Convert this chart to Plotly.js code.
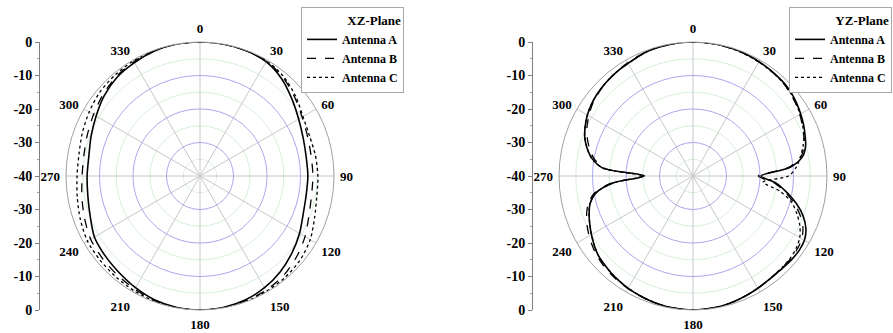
<!DOCTYPE html>
<html><head><meta charset="utf-8">
<script src="https://cdn.plot.ly/plotly-3.0.1.min.js"></script>
<style>html,body{margin:0;padding:0;background:#fff}#chart{width:893px;height:333px}</style>
</head><body><div id="chart"></div>
<script>
// ---- data (gain in dB) ----
const thetaXZ = [0,10,20,30,40,50,60,70,80,90,100,110,120,130,140,150,160,170,180,190,200,210,220,230,240,250,260,270,280,290,300,310,320,330,340,350,360];
const xzA = [0,0,-0.15,-0.6,-2.1,-4.2,-6.0,-7.2,-7.8,-7.8,-7.8,-7.2,-5.7,-4.2,-2.7,-1.5,-0.6,-0.15,0,-0.15,-0.6,-1.5,-2.4,-3.0,-3.6,-5.1,-6.0,-6.3,-6.3,-5.4,-4.2,-2.7,-1.5,-0.9,-0.3,0,0];
const xzB = [0,0,-0.1,-0.4,-1.5,-3.2,-4.8,-5.8,-6.3,-6.3,-6.2,-5.4,-3.8,-2.4,-1.2,-0.6,-0.3,-0.1,0,-0.1,-0.4,-1.0,-1.5,-1.9,-2.3,-3.3,-4.2,-4.8,-4.8,-4.2,-3.3,-2.2,-1.2,-0.6,-0.2,0,0];
const xzC = [0,0,-0.1,-0.3,-1.2,-2.8,-4.5,-5.2,-5.0,-4.8,-4.6,-3.6,-2.0,-1.0,-0.5,-0.3,-0.1,0,0,0,-0.2,-0.5,-0.8,-1.0,-1.2,-2.0,-2.8,-3.3,-3.3,-2.6,-1.8,-1.0,-0.6,-0.3,-0.1,0,0];

const thetaYZ = [0,5,10,15,20,25,30,35,40,45,50,55,60,65,70,75,80,85,90,95,100,105,110,115,120,125,130,135,140,145,150,155,160,165,170,175,180,185,190,195,200,205,210,215,220,225,230,235,240,245,250,255,260,265,270,275,280,285,290,295,300,305,310,315,320,325,330,335,340,345,350,355,360];
const yzA = [0,0,0,-0.1,-0.2,-0.4,-0.6,-0.8,-1.0,-1.2,-1.6,-2.2,-2.9,-3.6,-4.4,-5.2,-6.8,-11,-19.7,-15,-11.5,-8,-5,-2.8,-1.6,-1.3,-1.4,-1.6,-1.7,-1.6,-1.3,-1.0,-0.7,-0.4,-0.2,-0.1,0,-0.1,-0.2,-0.4,-0.7,-1.0,-1.3,-1.7,-2.1,-2.6,-3.1,-4.0,-5.0,-6.0,-7.0,-8.2,-10.5,-16,-25.5,-13,-9.3,-7.2,-5.6,-4.5,-3.6,-2.9,-2.4,-2.0,-1.7,-1.4,-1.2,-0.8,-0.4,-0.2,-0.1,0,0];
const yzB = [0,0,-0.1,-0.2,-0.3,-0.5,-0.7,-0.9,-1.1,-1.4,-1.9,-2.5,-3.2,-4.0,-4.8,-5.7,-7.3,-11.5,-20.5,-15.5,-12,-8.8,-6.0,-3.8,-2.5,-2.0,-1.8,-1.8,-1.8,-1.6,-1.3,-1.0,-0.7,-0.4,-0.2,-0.1,0,-0.1,-0.2,-0.4,-0.6,-0.9,-1.2,-1.5,-1.8,-2.2,-2.7,-3.4,-4.2,-5.1,-6.2,-7.6,-10,-15.5,-25,-13.5,-10,-8.0,-6.4,-5.1,-4.1,-3.2,-2.6,-2.1,-1.7,-1.3,-1.0,-0.7,-0.4,-0.2,-0.1,0,0];
const yzC = [0,0,-0.1,-0.2,-0.3,-0.5,-0.7,-0.9,-1.1,-1.4,-1.8,-2.4,-3.1,-3.9,-4.8,-6.0,-7.5,-9.0,-11.5,-19,-13.5,-9.5,-7.0,-4.8,-3.2,-2.4,-2.0,-1.9,-1.8,-1.6,-1.3,-1.0,-0.7,-0.4,-0.2,-0.1,0,-0.1,-0.2,-0.4,-0.7,-1.0,-1.3,-1.7,-2.1,-2.6,-3.1,-4.0,-5.0,-6.0,-7.0,-8.2,-10.5,-16,-25,-13,-9.3,-7.2,-5.6,-4.5,-3.6,-2.9,-2.4,-2.0,-1.7,-1.4,-1.2,-0.8,-0.4,-0.2,-0.1,0,0];

const seriesNames = ['Antenna A','Antenna B','Antenna C'];
const planeTitles = ['XZ-Plane','YZ-Plane'];
const angleTicks = [0,30,60,90,120,150,180,210,240,270,300,330];
const angleLabels = ['0','30','60','90','120','150','180','210','240','270','300','330'];
const sideTickVals = [-40,-30,-20,-10,0,10,20,30,40];
const sideTickText = ['0','-10','-20','-30','-40','-30','-20','-10','0'];

// ---- styling ----
const FONT = '"Liberation Serif", "Times New Roman", serif';
const W = 893, H = 333;
const dashes = ['solid','dash','dot'];
const widths = [1.6,1.3,1.3];

function px2fx(p){return p/W;}
function py2fy(p){return 1 - p/H;}
const R = 134, CY = 176;
const centersX = [200, 693];

const traces = [];
// empty traces so that the background (minor ring) polars and side scales are created
['polar','polar3'].forEach(sp => traces.push({type:'scatterpolar', subplot:sp, r:[], theta:[], mode:'lines', showlegend:false, hoverinfo:'skip'}));
const planes = [[thetaXZ,[xzA,xzB,xzC]],[thetaYZ,[yzA,yzB,yzC]]];
planes.forEach((pl, i) => {
  pl[1].forEach((vals, k) => {
    traces.push({
      type:'scatterpolar', subplot: i===0 ? 'polar2' : 'polar4',
      theta: pl[0], r: vals, mode:'lines', name: seriesNames[k],
      line:{color:'#000', width:widths[k], dash:dashes[k], shape:'spline', smoothing:0.8},
      legend: i===0 ? 'legend' : 'legend2', hoverinfo:'skip'
    });
  });
});
traces.push({type:'scatter', x:[], y:[], xaxis:'x', yaxis:'y', showlegend:false});
traces.push({type:'scatter', x:[], y:[], xaxis:'x2', yaxis:'y2', showlegend:false});

function domainFor(cx){
  return {x:[px2fx(cx-R), px2fx(cx+R)], y:[py2fy(CY+R), py2fy(CY-R)]};
}
function minorPolar(cx){
  return {
    domain: domainFor(cx), bgcolor:'#fff',
    radialaxis:{range:[-40,0], tickmode:'array', tickvals:[-35,-25,-15,-5], showticklabels:false, ticks:'', showline:false, gridcolor:'#d9f0d9', gridwidth:1},
    angularaxis:{direction:'clockwise', rotation:90, showgrid:false, showline:false, showticklabels:false, ticks:''}
  };
}
function mainPolar(cx){
  return {
    domain: domainFor(cx), bgcolor:'rgba(0,0,0,0)',
    radialaxis:{range:[-40,0], tickmode:'array', tickvals:[-30,-20,-10], showticklabels:false, ticks:'', showline:false, gridcolor:'#a8a8f0', gridwidth:1},
    angularaxis:{direction:'clockwise', rotation:90, tickmode:'array', tickvals:angleTicks, ticktext:angleLabels,
      showgrid:true, gridcolor:'#c8c8c8', showline:true, linecolor:'#a0a0a0', linewidth:1,
      ticks:'outside', ticklen:3, tickcolor:'rgba(0,0,0,0)',
      tickfont:{family:FONT, size:13, color:'#000', weight:'bold'}}
  };
}
function sideAxis(pxX){
  return {
    anchor:'free', position: px2fx(pxX), domain:[py2fy(CY+R), py2fy(CY-R)], range:[-40,40],
    tickmode:'array', tickvals: sideTickVals, ticktext: sideTickText,
    ticks:'outside', ticklen:4, tickcolor:'#808080', showline:true, linecolor:'#808080', linewidth:1,
    showgrid:false, zeroline:false, fixedrange:true,
    minor:{tickmode:'linear', dtick:5, tick0:0, ticks:'outside', ticklen:2, tickcolor:'#a0a0a0', showgrid:false},
    tickfont:{family:FONT, size:14, color:'#000', weight:'bold'}
  };
}
function legendFor(pxX, title){
  return {
    x: px2fx(pxX), y: py2fy(7), xanchor:'left', yanchor:'top',
    bgcolor:'#fff', bordercolor:'#a8a8a8', borderwidth:1,
    font:{family:FONT, size:12, color:'#000', weight:'bold'},
    title:{text:title, side:'top right', font:{family:FONT, size:13, color:'#000', weight:'bold'}},
    tracegroupgap:0, itemwidth:30
  };
}

const layout = {
  width:W, height:H, margin:{l:0,r:0,t:0,b:0, autoexpand:false},
  paper_bgcolor:'#fff', plot_bgcolor:'rgba(0,0,0,0)',
  showlegend:true,
  polar: minorPolar(centersX[0]),
  polar2: mainPolar(centersX[0]),
  polar3: minorPolar(centersX[1]),
  polar4: mainPolar(centersX[1]),
  xaxis:{domain:[0,0.03], visible:false, range:[0,1], fixedrange:true},
  xaxis2:{domain:[0.55,0.58], visible:false, range:[0,1], fixedrange:true},
  yaxis: sideAxis(39),
  yaxis2: sideAxis(532),
  legend: legendFor(301, planeTitles[0]),
  legend2: legendFor(789, planeTitles[1])
};

Plotly.newPlot('chart', traces, layout, {staticPlot:true, displayModeBar:false});
</script>
</body></html>
